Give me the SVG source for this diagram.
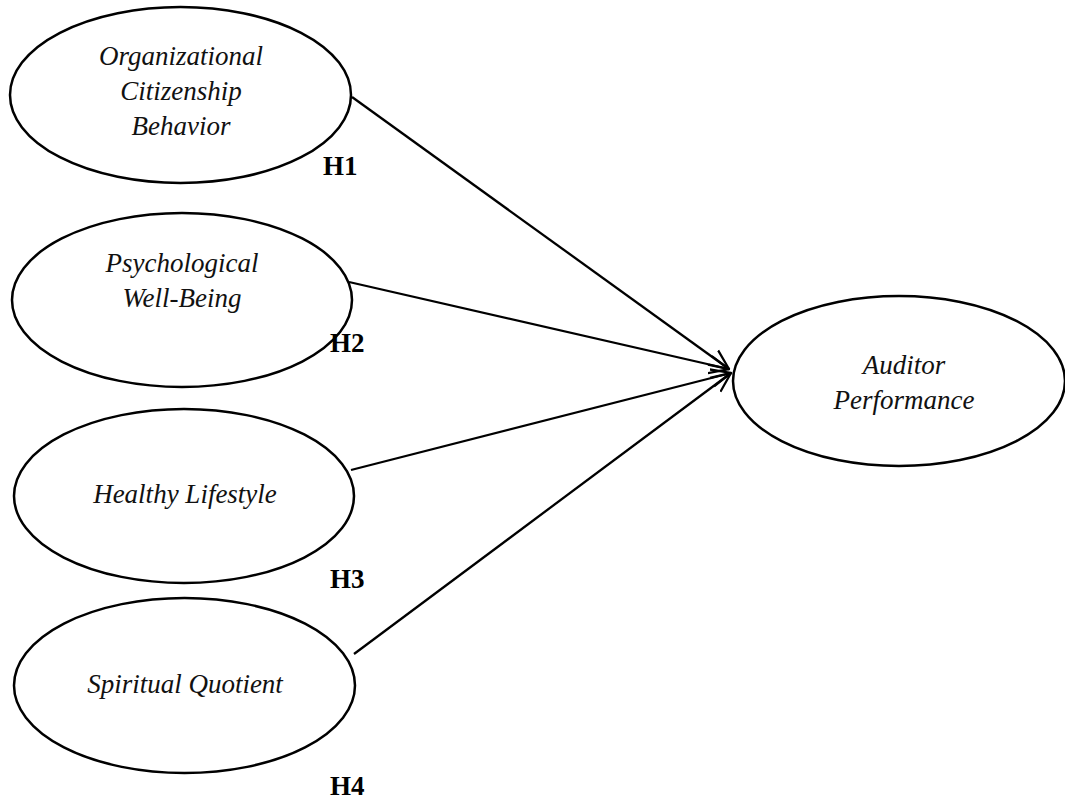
<svg xmlns="http://www.w3.org/2000/svg" width="1065" height="802" viewBox="0 0 1065 802">
<style>
.node ellipse{fill:#fff;stroke:#000;stroke-width:2.5}
.lbl{font-family:"Liberation Serif","Times New Roman",serif;font-style:italic;font-size:27px;fill:#111;text-anchor:middle}
.h{font-family:"Liberation Serif","Times New Roman",serif;font-weight:bold;font-size:27px;fill:#000}
.conn line{stroke:#000;stroke-width:2.3;fill:none}
</style>
<defs>
<marker id="arr" viewBox="0 0 10 10" refX="9.5" refY="5" markerWidth="9" markerHeight="9" orient="auto" markerUnits="strokeWidth">
<path d="M0,0.8 L9.5,5 L0,9.2" fill="none" stroke="#000" stroke-width="1.1"/>
</marker>
</defs>
<rect width="1065" height="802" fill="#fff"/>
<g id="ocb" class="node">
<ellipse cx="180.5" cy="95" rx="170.5" ry="88"/>
<text class="lbl" x="181" y="65">Organizational</text>
<text class="lbl" x="181" y="100">Citizenship</text>
<text class="lbl" x="181" y="135">Behavior</text>
</g>
<g id="pwb" class="node">
<ellipse cx="182" cy="300" rx="170" ry="87"/>
<text class="lbl" x="182" y="272">Psychological</text>
<text class="lbl" x="182" y="307">Well-Being</text>
</g>
<g id="hl" class="node">
<ellipse cx="184" cy="496" rx="170" ry="87"/>
<text class="lbl" x="185" y="503">Healthy Lifestyle</text>
</g>
<g id="sq" class="node">
<ellipse cx="184.5" cy="685.5" rx="170.5" ry="87.5"/>
<text class="lbl" x="185" y="693">Spiritual Quotient</text>
</g>
<g id="ap" class="node">
<ellipse cx="899" cy="381" rx="166" ry="85"/>
<text class="lbl" x="904" y="374">Auditor</text>
<text class="lbl" x="904" y="409">Performance</text>
</g>
<g id="connectors" class="conn">
<line x1="352" y1="97" x2="729" y2="369" marker-end="url(#arr)"/>
<line x1="349" y1="282" x2="729" y2="369" marker-end="url(#arr)"/>
<line x1="351" y1="470" x2="731" y2="373" marker-end="url(#arr)"/>
<line x1="354" y1="654" x2="731" y2="373" marker-end="url(#arr)"/>
</g>
<g id="labels">
<text class="h" x="323" y="175">H1</text>
<text class="h" x="330" y="352">H2</text>
<text class="h" x="330" y="588">H3</text>
<text class="h" x="330" y="795">H4</text>
</g>
</svg>
